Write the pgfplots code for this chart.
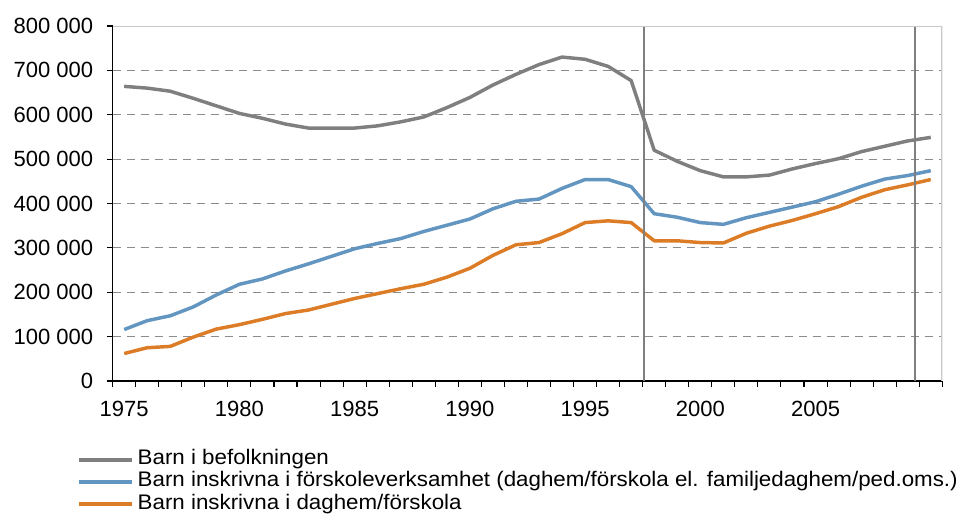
\documentclass[border=0pt]{standalone}
\usepackage{pgfplots}
\pgfplotsset{compat=1.18}
\usepackage{pgfplotstable}
\usepackage{fontspec}
\setmainfont{Liberation Sans}
\newfontfamily\legfont[FakeStretch=1.06]{Liberation Sans}

\definecolor{befolk}{HTML}{7F7F7F}
\definecolor{forsk}{HTML}{6295C0}
\definecolor{dagh}{HTML}{DD7C27}
\definecolor{gridc}{HTML}{8C8C8C}
\definecolor{framec}{HTML}{C8C8C8}

% barn i befolkningen, i förskoleverksamhet, i daghem/förskola
\pgfplotstableread{
year pop forsk dagh
1975 664000 116000 62000
1976 660000 136000 75000
1977 653000 147000 78000
1978 637000 167000 99000
1979 620000 194000 117000
1980 603000 218000 127000
1981 592000 230000 139000
1982 579000 248000 152000
1983 570000 264000 160000
1984 570000 281000 173000
1985 570000 298000 186000
1986 575000 310000 197000
1987 584000 321000 208000
1988 595000 337000 218000
1989 616000 351000 234000
1990 639000 365000 254000
1991 667000 388000 283000
1992 691000 405000 307000
1993 713000 410000 312000
1994 730000 434000 332000
1995 725000 454000 357000
1996 709000 454000 361000
1997 677000 438000 357000
1998 520000 377000 316000
1999 495000 369000 316000
2000 474000 357000 312000
2001 460000 353000 311000
2002 460000 368000 333000
2003 464000 380000 349000
2004 478000 392000 362000
2005 490000 404000 377000
2006 501000 421000 393000
2007 517000 439000 414000
2008 529000 455000 431000
2009 541000 463000 442000
2010 549000 474000 454000
}\barndata

\begin{document}
\begin{tikzpicture}
\useasboundingbox (0,0) rectangle (721.5pt,386.25pt);
\begin{axis}[
  at={(84.5pt,100.5pt)}, anchor=south west,
  scale only axis, width=622.2pt, height=266.25pt,
  xmin=1974.5, xmax=2010.5, ymin=0, ymax=800000,
  axis x line*=bottom, axis y line*=left,
  axis line style={black, line width=0.8pt, -},
  tick align=outside, major tick length=4.5pt,
  tick style={black, line width=0.8pt},
  xtick={1974.5,1975.5,...,2010.5}, xticklabels={},
  extra x ticks={1975,1980,1985,1990,1995,2000,2005},
  extra x tick labels={1975,1980,1985,1990,1995,2000,2005},
  extra x tick style={major tick length=0pt, grid=none},
  ytick={0,100000,...,800000},
  yticklabels={0,100 000,200 000,300 000,400 000,500 000,600 000,700 000,800 000},
  scaled y ticks=false,
  ymajorgrids=true,
  grid style={gridc, line width=0.75pt, dash pattern=on 6pt off 4.5pt},
  ticklabel style={font=\fontsize{16.5}{19}\selectfont},
  xticklabel style={inner sep=0pt, anchor=north, yshift=-15pt},
  yticklabel style={inner sep=0pt, anchor=east, xshift=-10pt},
  legend cell align=left,
  legend image code/.code={\draw[#1] (0pt,0pt) -- (39.75pt,0pt);},
  legend style={at={(-0.043,-0.19)}, anchor=north west, draw=none, fill=none,
    inner sep=0pt, row sep=0pt,
    font=\legfont\fontsize{15.8}{16}\selectfont,
    nodes={inner sep=0pt, text height=12.1pt, text depth=4.5pt},
    /tikz/every odd column/.append style={column sep=3pt}},
]
\addplot[befolk, line width=2.6pt, line join=round] table[x=year, y=pop] {\barndata};
\addlegendentry{Barn i befolkningen}
\addplot[forsk, line width=2.6pt, line join=round] table[x=year, y=forsk] {\barndata};
\addlegendentry{Barn inskrivna i förskoleverksamhet (daghem/förskola el. familjedaghem/ped.oms.)}
\addplot[dagh, line width=2.6pt, line join=round] table[x=year, y=dagh] {\barndata};
\addlegendentry{Barn inskrivna i daghem/förskola}
% vertikala markeringar
\addplot[forget plot, befolk, line width=1.5pt] coordinates {(1997.57,0) (1997.57,800000)};
\addplot[forget plot, befolk, line width=1.5pt] coordinates {(2009.33,0) (2009.33,800000)};
\draw[framec, line width=1.5pt] (rel axis cs:0,1) -- (rel axis cs:1,1) -- (rel axis cs:1,0);
\end{axis}
\end{tikzpicture}
\end{document}
